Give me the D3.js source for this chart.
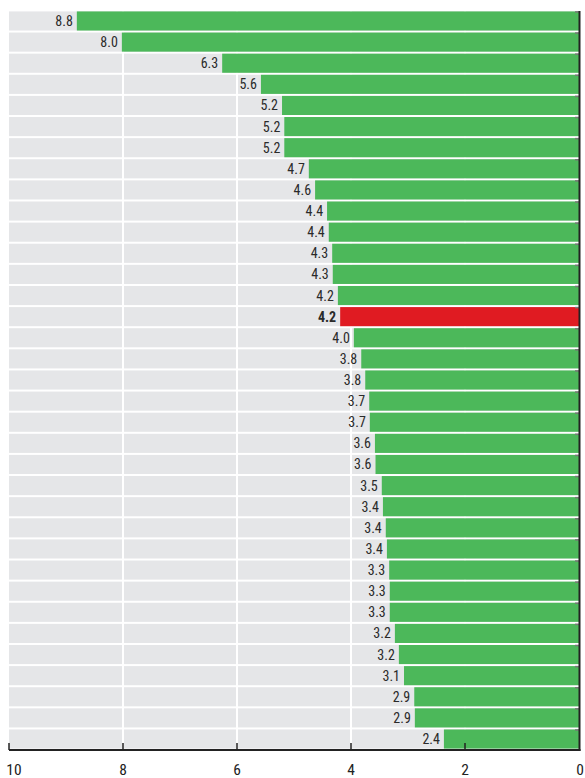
<!DOCTYPE html>
<html><head><meta charset="utf-8">
<script src="https://cdn.jsdelivr.net/npm/d3@7"></script>
<style>
html,body{margin:0;padding:0;background:#fff;}
svg{display:block;font-family:"Liberation Sans Narrow","Roboto Condensed","Arial Narrow",sans-serif;}
</style></head><body>
<svg id="c" width="585" height="778"></svg>
<script>
const values = [8.81, 8.02, 6.26, 5.58, 5.21, 5.17, 5.17, 4.74, 4.63, 4.42, 4.39, 4.33, 4.32, 4.23, 4.19, 3.95, 3.82, 3.75, 3.68, 3.67, 3.58, 3.57, 3.46, 3.44, 3.39, 3.37, 3.33, 3.32, 3.32, 3.23, 3.16, 3.07, 2.89, 2.88, 2.37];
const valueLabels = ["8.8","8.0","6.3","5.6","5.2","5.2","5.2","4.7","4.6","4.4","4.4","4.3","4.3","4.2","4.2","4.0","3.8","3.8","3.7","3.7","3.6","3.6","3.5","3.4","3.4","3.4","3.3","3.3","3.3","3.2","3.2","3.1","2.9","2.9","2.4"];
const highlightIndex = 14;
const xTicks = [10, 8, 6, 4, 2, 0];

(function () {
const svg = d3.select("#c");
const pLeft = 9, pRight = 579, pTop = 11, pBottom = 749;
const x = d3.scaleLinear().domain([10, 0]).range([pLeft, pRight]);
const y = d3.scaleBand().domain(d3.range(values.length)).range([pTop, pBottom]).paddingInner(0.095).paddingOuter(0.02);

// gray bands
svg.append("g").selectAll("rect").data(values).join("rect")
  .attr("x", pLeft).attr("width", pRight - pLeft)
  .attr("y", (d, i) => y(i)).attr("height", y.bandwidth())
  .attr("fill", "#e5e6e8");

// white gridlines
svg.append("g").selectAll("line").data([8, 6, 4, 2]).join("line")
  .attr("x1", d => x(d)).attr("x2", d => x(d))
  .attr("y1", pTop).attr("y2", pBottom)
  .attr("stroke", "#fff").attr("stroke-width", 2);

// bars
svg.append("g").selectAll("rect").data(values).join("rect")
  .attr("x", d => x(d)).attr("width", d => x(0) - x(d))
  .attr("y", (d, i) => y(i)).attr("height", y.bandwidth())
  .attr("fill", (d, i) => i === highlightIndex ? "#e01b22" : "#4cb85a");

// value labels
svg.append("g").selectAll("text").data(values).join("text")
  .attr("x", d => x(d) - 4)
  .attr("y", (d, i) => y(i) + y.bandwidth() / 2 + 5)
  .attr("text-anchor", "end")
  .attr("font-size", 14)
  .attr("font-weight", (d, i) => i === highlightIndex ? "bold" : "normal")
  .attr("fill", "#2a2a2a")
  .text((d, i) => valueLabels[i]);

// right axis with small row ticks
svg.append("g").selectAll("line").data(values).join("line")
  .attr("x1", pRight - 4).attr("x2", pRight)
  .attr("y1", (d, i) => y(i) + 0.5).attr("y2", (d, i) => y(i) + 0.5)
  .attr("stroke", "#777").attr("stroke-width", 1.5);
svg.append("line")
  .attr("x1", pRight + 0.5).attr("x2", pRight + 0.5)
  .attr("y1", pTop).attr("y2", pBottom + 2)
  .attr("stroke", "#222").attr("stroke-width", 2);

// bottom axis
const axisY = 750;
const xAxis = d3.axisBottom(x).tickValues(xTicks).tickSize(0).tickPadding(0);
const ax = svg.append("g").attr("transform", `translate(0,${axisY})`).call(xAxis);
ax.select(".domain").remove();
ax.selectAll(".tick text").remove();
svg.append("line").attr("x1", pLeft).attr("x2", pRight + 1.5)
  .attr("y1", axisY).attr("y2", axisY).attr("stroke", "#222").attr("stroke-width", 2);
svg.append("g").selectAll("line").data(xTicks.filter(d => d !== 0)).join("line")
  .attr("x1", d => x(d)).attr("x2", d => x(d))
  .attr("y1", axisY - 7).attr("y2", axisY)
  .attr("stroke", "#222").attr("stroke-width", 1.5);
svg.append("g").selectAll("text").data(xTicks).join("text")
  .attr("x", d => d === 10 ? x(d) + 5 : (d === 0 ? x(d) + 1 : x(d)))
  .attr("y", 775)
  .attr("text-anchor", "middle")
  .attr("font-size", 15.5)
  .attr("fill", "#222")
  .text(d => d);
})();
</script>
</body></html>
